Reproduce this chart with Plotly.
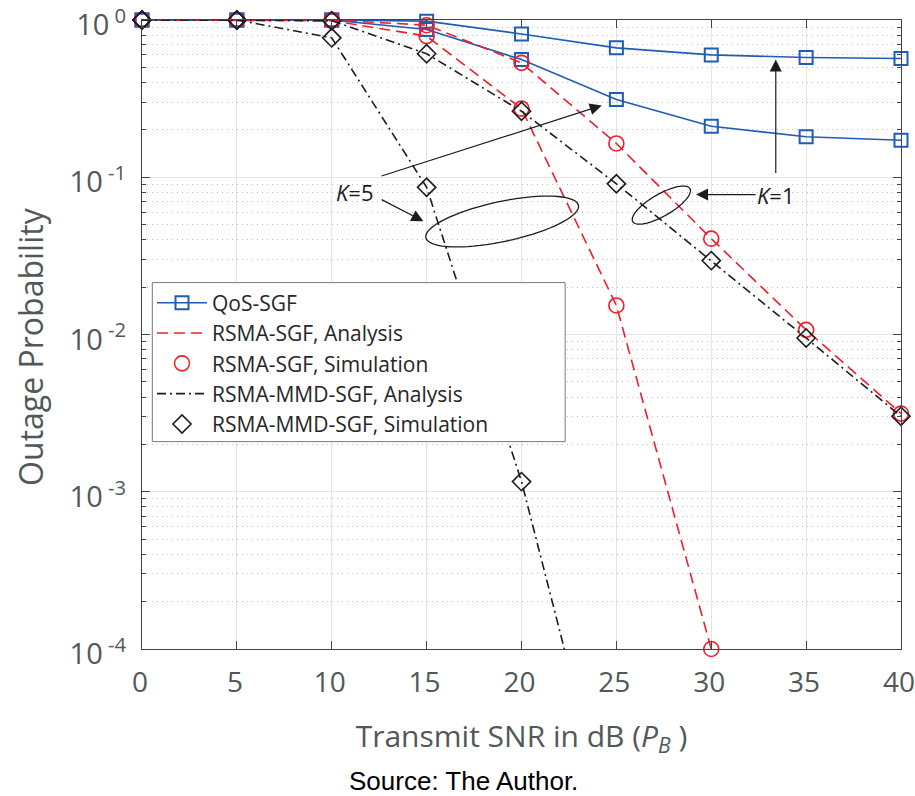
import math
import plotly.graph_objects as go

# ---- data -------------------------------------------------------------
snr_db = [0, 5, 10, 15, 20, 25, 30, 35, 40]

qos_k1 = [1.0, 1.0, 1.0, 0.983, 0.815, 0.665, 0.600, 0.577, 0.569]
qos_k5 = [1.0, 1.0, 1.0, 0.87, 0.56, 0.312, 0.211, 0.181, 0.172]

rsma_k1 = [1.0, 1.0, 1.0, 0.927, 0.534, 0.164, 0.0407, 0.0107, 0.00314]
rsma_k5_snr = [0, 5, 10, 15, 20, 25, 30]
rsma_k5 = [1.0, 1.0, 0.99, 0.79, 0.273, 0.0153, 0.0001]

mmd_k1 = [1.0, 1.0, 0.99, 0.61, 0.263, 0.0908, 0.0295, 0.0095, 0.00302]
mmd_k5_sim_snr = [0, 5, 10, 15, 20]
mmd_k5_sim = [1.0, 1.0, 0.77, 0.0863, 0.00116]
mmd_k5_ana_snr = [0, 5, 10, 15, 20, 25]
mmd_k5_ana = [1.0, 1.0, 0.77, 0.0863, 0.00116, 5.1e-6]

y_tick_vals = [1e-4, 1e-3, 1e-2, 1e-1, 1e0]
y_tick_text = ["10<sup> -4</sup>", "10<sup> -3</sup>", "10<sup> -2</sup>",
               "10<sup> -1</sup>", "10<sup> 0</sup>"]
x_tick_vals = [0, 5, 10, 15, 20, 25, 30, 35, 40]

# ---- styles -------------------------------------------------------------
BLUE = "#1f5cb8"
RED = "#f01e2c"
BLACK = "#1c1c1c"
AXIS_TXT = "#525858"
FONT = "Open Sans"
DASH = "11px,6px"
DASHDOT = "9px,4px,2px,4px"

fig = go.Figure()

# QoS-SGF (solid blue with squares)
for ys, show in ((qos_k1, True), (qos_k5, False)):
    fig.add_trace(go.Scatter(
        x=snr_db, y=ys, mode="lines+markers", name="QoS-SGF", showlegend=show,
        line=dict(color=BLUE, width=1.6),
        marker=dict(symbol="square-open", size=13, color=BLUE, line=dict(width=2)),
        cliponaxis=False))

# RSMA-SGF analysis (red dashed)
for xs, ys, show in ((snr_db, rsma_k1, True), (rsma_k5_snr, rsma_k5, False)):
    fig.add_trace(go.Scatter(
        x=xs, y=ys, mode="lines", name="RSMA-SGF, Analysis", showlegend=show,
        line=dict(color=RED, width=1.6, dash=DASH)))

# RSMA-SGF simulation (red circles)
for xs, ys, show in ((snr_db, rsma_k1, True), (rsma_k5_snr, rsma_k5, False)):
    fig.add_trace(go.Scatter(
        x=xs, y=ys, mode="markers", name="RSMA-SGF, Simulation", showlegend=show,
        marker=dict(symbol="circle-open", size=15, color=RED, line=dict(width=1.6)),
        cliponaxis=False))

# RSMA-MMD-SGF analysis (black dash-dot)
for xs, ys, show in ((snr_db, mmd_k1, True), (mmd_k5_ana_snr, mmd_k5_ana, False)):
    fig.add_trace(go.Scatter(
        x=xs, y=ys, mode="lines", name="RSMA-MMD-SGF, Analysis", showlegend=show,
        line=dict(color=BLACK, width=1.6, dash=DASHDOT)))

# RSMA-MMD-SGF simulation (black diamonds)
for xs, ys, show in ((snr_db, mmd_k1, True), (mmd_k5_sim_snr, mmd_k5_sim, False)):
    fig.add_trace(go.Scatter(
        x=xs, y=ys, mode="markers", name="RSMA-MMD-SGF, Simulation", showlegend=show,
        marker=dict(symbol="diamond-open", size=14, color=BLACK, line=dict(width=1.6)),
        cliponaxis=False))


def ellipse_path(a, b, deg, n=72):
    """Closed SVG path of a rotated ellipse, in pixel offsets."""
    t = math.radians(deg)
    pts = []
    for i in range(n):
        u = 2 * math.pi * i / n
        px = a * math.cos(u) * math.cos(t) - b * math.sin(u) * math.sin(t)
        py = a * math.cos(u) * math.sin(t) + b * math.sin(u) * math.cos(t)
        pts.append(f"{px:.2f},{py:.2f}")
    return "M" + " L".join(pts) + " Z"


# ellipses grouping the K=5 and K=1 curves
fig.add_shape(type="path", xref="x", yref="y", xsizemode="pixel", ysizemode="pixel",
              xanchor=18.98, yanchor=0.0523, path=ellipse_path(78, 20, 12),
              line=dict(color=BLACK, width=1.3))
fig.add_shape(type="path", xref="x", yref="y", xsizemode="pixel", ysizemode="pixel",
              xanchor=27.37, yanchor=0.0665, path=ellipse_path(33, 11, 30),
              line=dict(color=BLACK, width=1.3))

# opaque legend panel (wider than the entries)
fig.add_shape(type="rect", xref="paper", yref="paper", layer="above",
              x0=0.0136, x1=0.5575, y0=0.3297, y1=0.5825,
              fillcolor="white", line=dict(color="#7a7a7a", width=1))

ann_font = dict(family=FONT, size=22, color=BLACK)
arrow_kw = dict(showarrow=True, arrowhead=2, arrowsize=2.0, arrowwidth=1.2,
                arrowcolor=BLACK, xref="x", yref="y")

# K=1 label with arrow to its ellipse, plus arrow up to QoS curve
fig.add_annotation(x=29.2, y=math.log10(0.0776), text="<i>K</i>=1", font=ann_font,
                   ax=80, ay=0, **arrow_kw)
fig.add_annotation(x=33.4, y=math.log10(0.561), text="", ax=0, ay=115, **arrow_kw)

# K=5 label with two arrows
fig.add_annotation(x=11.2, y=math.log10(0.0811), text="<i>K</i>=5", font=ann_font,
                   showarrow=False, xref="x", yref="y")
fig.add_annotation(x=24.23, y=math.log10(0.286), text="", ax=-221.7, ay=71, **arrow_kw)
fig.add_annotation(x=14.83, y=math.log10(0.0525), text="", ax=-43.3, ay=-22.4, **arrow_kw)

# y-axis title
fig.add_annotation(x=-0.147, y=0.481, xref="paper", yref="paper",
                   xanchor="center", yanchor="middle", textangle=-90,
                   text="Outage Probability", showarrow=False,
                   font=dict(family=FONT, size=32, color=AXIS_TXT))

# source line under the chart
fig.add_annotation(x=0.424, y=-0.2095, xref="paper", yref="paper",
                   xanchor="center", yanchor="middle",
                   text="Source: The Author.", showarrow=False,
                   font=dict(family="Liberation Sans", size=26, color="#000000"))

minor_vals = [k * 10.0 ** e for e in range(-4, 0) for k in range(2, 10)]

fig.update_layout(
    width=915, height=796,
    margin=dict(l=142, r=14, t=20, b=147, autoexpand=False),
    paper_bgcolor="white", plot_bgcolor="white",
    font=dict(family=FONT, color=AXIS_TXT),
    showlegend=True,
    legend=dict(x=0.0132, y=0.5825, xanchor="left", yanchor="top",
                bgcolor="rgba(0,0,0,0)", borderwidth=0,
                font=dict(family=FONT, size=21, color="#262626"),
                itemwidth=50, tracegroupgap=0, traceorder="normal"),
    xaxis=dict(range=[0, 40], tickvals=x_tick_vals, ticks="inside", ticklen=8,
               tickcolor="#444", showline=True, linecolor="#444", linewidth=1,
               mirror="ticks", showgrid=True, gridcolor="#e4e4e4", gridwidth=1,
               zeroline=False, tickfont=dict(size=28, color=AXIS_TXT),
               ticklabeloverflow="allow", ticklabelstandoff=8, ticklabelshift=-2,
               automargin=False,
               title=dict(text="Transmit SNR in dB (<i>P<sub>B</sub></i> )",
                          font=dict(size=30, color=AXIS_TXT), standoff=27)),
    yaxis=dict(type="log", range=[-4, 0], tickmode="array", tickvals=y_tick_vals,
               ticktext=y_tick_text, ticks="inside", ticklen=8, tickcolor="#444",
               showline=True, linecolor="#444", linewidth=1, mirror="ticks",
               showgrid=True, gridcolor="#e4e4e4", gridwidth=1, zeroline=False,
               tickfont=dict(size=29, color=AXIS_TXT), ticklabeloverflow="allow",
               ticklabelshift=5, ticklabelstandoff=9, automargin=False,
               minor=dict(tickmode="array", tickvals=minor_vals, ticks="inside",
                          ticklen=4, tickcolor="#444", showgrid=True,
                          gridcolor="#bdbdbd", griddash="1px,4px", gridwidth=1)),
)

fig.write_html("out.html")
